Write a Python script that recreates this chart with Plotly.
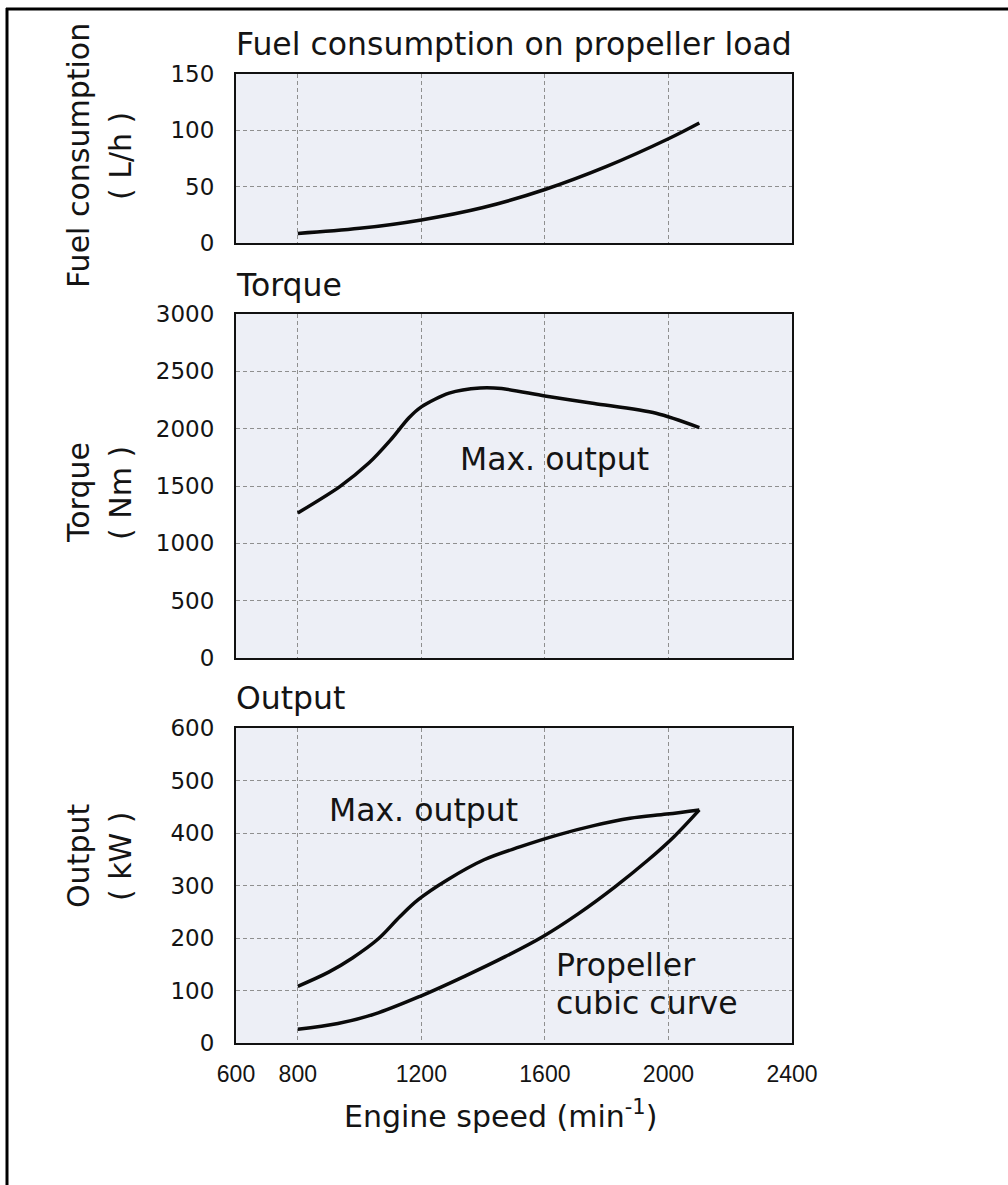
import plotly.graph_objects as go

# ---------------- data ----------------
speed_fuel = [800, 1000, 1200, 1400, 1600, 1800, 2000, 2100]
fuel_lph = [8.5, 13, 20.5, 31.5, 47.5, 68, 92.5, 106.5]

speed_torque = [800, 936, 1030, 1100, 1160, 1200, 1290, 1390, 1460, 1600, 1760, 1960, 2100]
torque_nm = [1265, 1495, 1700, 1900, 2095, 2190, 2310, 2355, 2350, 2285, 2220, 2135, 2010]

speed_max = [800, 900, 977, 1060, 1131, 1190, 1285, 1403, 1521, 1640, 1758, 1876, 1994, 2100]
output_max_kw = [108, 135, 162, 198, 241, 273, 311, 349, 374, 396, 414, 428, 436, 444]

speed_prop = [800, 930, 1048, 1196, 1343, 1473, 1594, 1710, 1828, 1935, 2018, 2100]
output_prop_kw = [26, 37, 55, 89, 128, 165, 203, 247, 298, 349, 393, 444]

x_ticks = [600, 800, 1200, 1600, 2000, 2400]
fuel_ticks = [0, 50, 100, 150]
torque_ticks = [0, 500, 1000, 1500, 2000, 2500, 3000]
output_ticks = [0, 100, 200, 300, 400, 500, 600]

# ---------------- layout helpers ----------------
W, H = 1008, 1185
FONT = "DejaVu Sans"
TXT = "#141414"


def px(x):
    return x / W


def py(y):
    return 1 - y / H


PLOT_L, PLOT_R = 236, 792
panels = {"top": (74, 243), "mid": (314, 658), "bot": (728, 1043)}

fig = go.Figure()
line_style = dict(color="#0a0a0a", width=3.5)

fig.add_trace(go.Scatter(x=speed_fuel, y=fuel_lph, mode="lines", line=dict(shape="spline", smoothing=1.0, **line_style),
                         xaxis="x", yaxis="y", hoverinfo="skip"))
fig.add_trace(go.Scatter(x=speed_torque, y=torque_nm, mode="lines", line=dict(shape="spline", smoothing=0.8, **line_style),
                         xaxis="x2", yaxis="y2", hoverinfo="skip"))
fig.add_trace(go.Scatter(x=speed_max, y=output_max_kw, mode="lines", line=dict(shape="spline", smoothing=1.0, **line_style),
                         xaxis="x3", yaxis="y3", hoverinfo="skip"))
fig.add_trace(go.Scatter(x=speed_prop, y=output_prop_kw, mode="lines", line=dict(shape="spline", smoothing=1.0, **line_style),
                         xaxis="x3", yaxis="y3", hoverinfo="skip"))

grid = dict(showgrid=True, gridcolor="#8f8f8f", gridwidth=1, griddash="4px,3px",
            showline=True, linecolor="#111111", linewidth=2, mirror=True,
            zeroline=False, ticks="", automargin=False)

xbase = dict(range=[600, 2400], tickvals=x_ticks, domain=[px(PLOT_L), px(PLOT_R)], **grid)
ytickfont = dict(family=FONT, size=23, color=TXT)


def ydom(key):
    t, b = panels[key]
    return [py(b), py(t)]


fig.update_layout(
    template="none",
    width=W, height=H,
    autosize=False,
    margin=dict(l=0, r=0, t=0, b=0, pad=0, autoexpand=False),
    paper_bgcolor="white",
    plot_bgcolor="#edeff6",
    showlegend=False,
    hovermode=False,
    font=dict(family=FONT, color=TXT),
    xaxis=dict(anchor="y", showticklabels=False, **xbase),
    xaxis2=dict(anchor="y2", showticklabels=False, **xbase),
    xaxis3=dict(anchor="y3", showticklabels=True,
                tickfont=dict(family="Liberation Sans", size=23, color=TXT),
                ticklabelstandoff=9, **xbase),
    yaxis=dict(anchor="x", domain=ydom("top"), range=[0, 150], tickvals=fuel_ticks,
               tickfont=ytickfont, ticklabelstandoff=15, **grid),
    yaxis2=dict(anchor="x2", domain=ydom("mid"), range=[0, 3000], tickvals=torque_ticks,
                tickfont=ytickfont, ticklabelstandoff=15, **grid),
    yaxis3=dict(anchor="x3", domain=ydom("bot"), range=[0, 600], tickvals=output_ticks,
                tickfont=ytickfont, ticklabelstandoff=15, **grid),
)

ann = []
# panel titles
for text, ymid in [("Fuel consumption on propeller load", 44), ("Torque", 285), ("Output", 698)]:
    ann.append(dict(text=text, xref="paper", yref="paper", x=px(PLOT_L - 2), y=py(ymid),
                    xanchor="left", yanchor="middle", showarrow=False,
                    font=dict(family=FONT, size=31.5, color=TXT)))
# y-axis titles (two lines each)
for l1, l2, ymid in [("Fuel consumption", "( L/h )", 156), ("Torque", "( Nm )", 493), ("Output", "( kW )", 856)]:
    ann.append(dict(text=l1, xref="paper", yref="paper", x=px(78), y=py(ymid), textangle=-90,
                    xanchor="center", yanchor="middle", showarrow=False,
                    font=dict(family=FONT, size=30, color=TXT)))
    ann.append(dict(text=l2, xref="paper", yref="paper", x=px(120), y=py(ymid), textangle=-90,
                    xanchor="center", yanchor="middle", showarrow=False,
                    font=dict(family=FONT, size=30, color=TXT)))
# in-plot labels
ann.append(dict(text="Max. output", xref="x2", yref="y2", x=1320, y=1735, xanchor="left", yanchor="middle",
                showarrow=False, font=dict(family=FONT, size=31.5, color=TXT)))
ann.append(dict(text="Max. output", xref="x3", yref="y3", x=895, y=443, xanchor="left", yanchor="middle",
                showarrow=False, font=dict(family=FONT, size=31.5, color=TXT)))
ann.append(dict(text="Propeller", xref="x3", yref="y3", x=1628, y=148, xanchor="left", yanchor="middle",
                showarrow=False, font=dict(family=FONT, size=31.5, color=TXT)))
ann.append(dict(text="cubic curve", xref="x3", yref="y3", x=1628, y=77, xanchor="left", yanchor="middle",
                showarrow=False, font=dict(family=FONT, size=31.5, color=TXT)))
# x-axis title
ann.append(dict(text="Engine speed (min<sup>-1</sup>)", xref="paper", yref="paper", x=px(500), y=py(1114),
                xanchor="center", yanchor="middle", showarrow=False,
                font=dict(family=FONT, size=30, color=TXT)))
fig.update_layout(annotations=ann)

# outer frame (top and left edges visible in the reference)
fig.add_shape(type="line", xref="paper", yref="paper", x0=px(6), x1=1, y0=py(9), y1=py(9),
              line=dict(color="black", width=3))
fig.add_shape(type="line", xref="paper", yref="paper", x0=px(7), x1=px(7), y0=py(8), y1=0,
              line=dict(color="black", width=3))

fig.write_html("out.html", config={"displayModeBar": False, "responsive": False},
               post_script="document.body.style.margin='0';document.body.style.overflow='hidden';")
